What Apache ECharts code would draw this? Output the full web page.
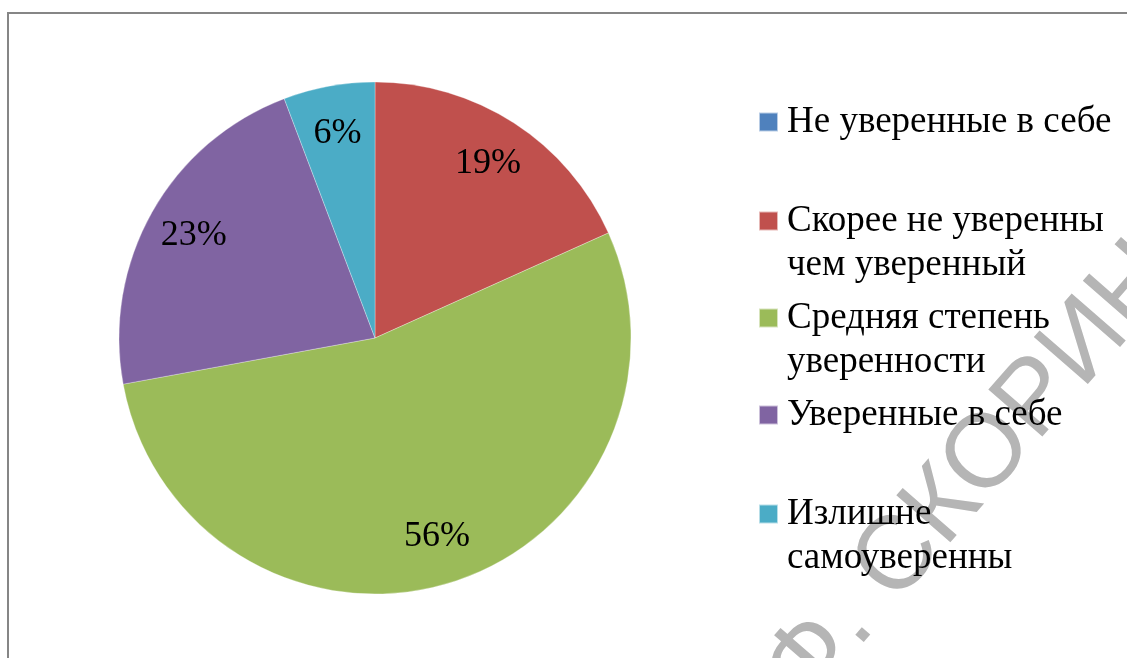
<!DOCTYPE html>
<html>
<head>
<meta charset="utf-8">
<script src="https://cdn.jsdelivr.net/npm/echarts@6/dist/echarts.min.js"></script>
<style>
  html, body { margin: 0; padding: 0; background: #fff; }
  #chart { width: 1127px; height: 658px; }
</style>
</head>
<body>
<div id="chart"></div>
<script>
// категории и значения (подписи в %)
var categories = ['Не уверенные в себе', 'Скорее не уверенны чем уверенный', 'Средняя степень уверенности', 'Уверенные в себе', 'Излишне самоуверенны'];
var legendLines = [['Не уверенные в себе'], ['Скорее не уверенны', 'чем уверенный'], ['Средняя степень', 'уверенности'], ['Уверенные в себе'], ['Излишне', 'самоуверенны']];
var values = [0, 19, 56, 23, 6];
var colors = ['#4F81BD', '#C0504D', '#9BBB59', '#8064A2', '#4BACC6'];

var fontFamily = '"Liberation Serif", "Times New Roman", serif';
var lineH = 44;
var iconCenters = [122, 221, 318, 415, 514];

var pieData = [];
var labelData = [];
for (var i = 0; i < categories.length; i++) {
	pieData.push({ name: categories[i], value: values[i] });
	labelData.push({ name: categories[i], value: values[i], label: { show: values[i] > 0 } });
}

// одна легенда на пункт; пустые строки сверху, чтобы значок стоял у первой строки
var legends = [];
for (var i = 0; i < categories.length; i++) {
	var n = legendLines[i].length;
	var lines = [];
	for (var k = 1; k < n; k++) lines.push('{t| }');
	for (var k = 0; k < n; k++) lines.push('{t|' + legendLines[i][k] + '}');
	var boxH = lines.length * lineH;
	legends.push({
		data: [categories[i]],
		left: 758,
		top: iconCenters[i] - boxH / 2,
		padding: 0,
		itemWidth: 19,
		itemHeight: 19,
		icon: 'rect',
		selectedMode: false,
		formatter: (function(t) { return function() { return t; }; })(lines.join('\n')),
		textStyle: {
			fontFamily: fontFamily,
			fontSize: 37,
			color: '#000',
			lineHeight: lineH,
			rich: {
				t: {
					fontFamily: fontFamily,
					fontSize: 37,
					color: '#000',
					lineHeight: lineH,
					padding: [0, 0, 0, 4]
				}
			}
		}
	});
}

var option = {
	backgroundColor: '#fff',
	animation: false,
	color: colors,
	legend: legends,
	graphic: [
		{
			type: 'rect',
			z: 0,
			shape: { x: 8, y: 13, width: 1300, height: 800 },
			style: { fill: 'none', stroke: '#868686', lineWidth: 2 }
		},
		{
			// водяной знак скана
			type: 'text',
			z: 1,
			x: 784,
			y: 690,
			rotation: 49 * Math.PI / 180,
			style: {
				text: 'Ф. СКОРИНЫ',
				font: '104px "Liberation Sans", Arial, sans-serif',
				fill: '#b5b5b5',
				align: 'left',
				verticalAlign: 'middle'
			}
		}
	],
	series: [
		{
			name: 'pie',
			type: 'pie',
			center: [375, 338],
			radius: [0, 256],
			startAngle: 90,
			clockwise: true,
			silent: true,
			label: { show: false },
			labelLine: { show: false },
			itemStyle: { borderColor: 'rgba(255,255,255,0.6)', borderWidth: 0.5 },
			data: pieData
		},
		{
			// прозрачное кольцо только для подписей (на 0.8 радиуса)
			name: 'labels',
			type: 'pie',
			center: [375, 338],
			radius: [154, 256],
			startAngle: 90,
			clockwise: true,
			silent: true,
			itemStyle: { color: 'rgba(0,0,0,0)', borderWidth: 0 },
			label: {
				position: 'inside',
				formatter: '{c}%',
				fontFamily: fontFamily,
				fontSize: 36,
				color: '#000'
			},
			labelLine: { show: false },
			data: labelData
		}
	]
};

initCharts(option, 'chart');

function initCharts(option, id) {
	var dom = document.getElementById(id);
	var myChart = echarts.init(dom, null, { renderer: 'canvas' });
	if (option && typeof option === 'object') {
		myChart.setOption(option, true);
	}
}
</script>
</body>
</html>
